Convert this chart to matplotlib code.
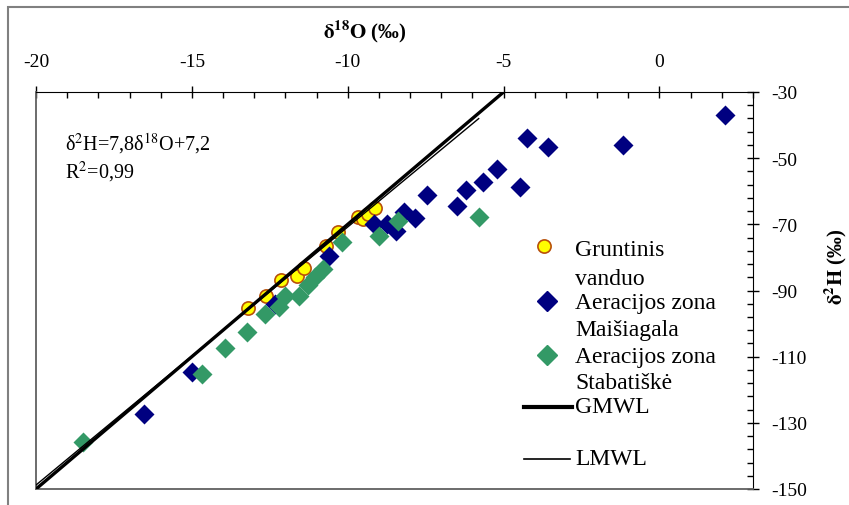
import matplotlib
matplotlib.use('Agg')
import matplotlib.pyplot as plt
from matplotlib.ticker import MultipleLocator, FixedLocator

plt.rcParams['font.family'] = ['Liberation Serif', 'DejaVu Serif']
plt.rcParams['mathtext.fontset'] = 'stix'
plt.rcParams['axes.unicode_minus'] = False

# Gruntinis vanduo
gw_o18 = [-13.19, -12.62, -12.13, -11.62, -11.40, -10.69, -10.30, -9.66, -9.50, -9.34, -9.12]
gw_h2 = [-95.3, -91.7, -86.8, -85.6, -83.2, -76.6, -72.3, -67.8, -68.4, -66.9, -65.1]

# Aeracijos zona Maisiagala
mai_o18 = [2.09, -4.24, -3.56, -1.16, -5.20, -5.65, -6.20, -4.46, -7.45, -6.48,
           -8.19, -7.83, -9.15, -8.73, -8.44, -10.59, -12.33, -14.99, -16.53]
mai_h2 = [-37.0, -43.9, -46.6, -46.0, -53.3, -57.2, -59.6, -58.7, -61.1, -64.5,
          -66.3, -68.1, -69.9, -69.9, -72.0, -79.6, -94.1, -114.6, -127.3]

# Aeracijos zona Stabatiske
sta_o18 = [-18.49, -14.67, -13.93, -13.23, -12.65, -12.20, -12.01, -11.56, -11.27,
           -11.04, -10.79, -10.18, -8.99, -8.38, -5.78]
sta_h2 = [-135.8, -115.2, -107.4, -102.6, -97.1, -95.0, -91.7, -91.7, -88.3,
          -85.9, -83.5, -75.3, -73.5, -69.0, -67.8]

# meteoric water lines (end points in d18O)
gmwl_x = [-20, -5]
lmwl_x = [-20, -5.8]
gmwl_y = [8 * x + 10 for x in gmwl_x]
lmwl_y = [7.8 * x + 7.2 for x in lmwl_x]

y_ticks = [-30, -50, -70, -90, -110, -130, -150]

fig = plt.figure(figsize=(8.49, 5.06), dpi=100)
ax = fig.add_axes([36 / 849, 1 - 490 / 506, 717 / 849, 397 / 506])

ax.plot(gw_o18, gw_h2, 'o', ms=9.5, mfc='#FFFF00', mec='#B8500A', mew=1.2, zorder=3)
ax.plot(mai_o18, mai_h2, 'D', ms=10, color='#000080', mec='none', zorder=3)
ax.plot(sta_o18, sta_h2, 'D', ms=10, color='#339966', mec='none', zorder=3)
ax.plot(gmwl_x, gmwl_y, color='black', lw=2.4, zorder=4)
ax.plot(lmwl_x, lmwl_y, color='black', lw=1.0, zorder=4)

ax.set_xlim(-20, 3)
ax.set_ylim(-150, -30)
ax.xaxis.tick_top()
ax.yaxis.tick_right()
ax.xaxis.set_label_position('top')
ax.yaxis.set_label_position('right')
ax.xaxis.set_major_locator(MultipleLocator(5))
ax.xaxis.set_minor_locator(MultipleLocator(1))
ax.yaxis.set_major_locator(FixedLocator(y_ticks))
ax.yaxis.set_minor_locator(MultipleLocator(4, offset=2))
ax.tick_params(which='major', direction='inout', length=9, width=1, labelsize=14)
ax.tick_params(which='minor', direction='in', length=4, width=1)
ax.tick_params(axis='x', which='major', pad=11)
ax.tick_params(axis='y', which='major', pad=9)

for s in ['top', 'right']:
    ax.spines[s].set_color('black')
for s in ['left', 'bottom']:
    ax.spines[s].set_color('#606060')
    ax.spines[s].set_linewidth(1.3)

ax.set_xlabel(r'$\mathbf{\delta^{18}O}$ (‰)', fontsize=15, fontweight='bold')
ax.set_ylabel(r'$\mathbf{\delta^{2}H}$ (‰)', fontsize=15, fontweight='bold')
ax.xaxis.set_label_coords(0.459, 1.139)
ax.yaxis.set_label_coords(1.097, 0.562)

ax.text(0.04, 0.872, 'δ$^{2}$H=7,8δ$^{18}$O+7,2', transform=ax.transAxes,
        fontsize=14.5, va='center')
ax.text(0.04, 0.80, 'R$^{2}$=0,99', transform=ax.transAxes, fontsize=14.5, va='center')

# legend drawn by hand to keep the wrapped Excel-style labels
tx = 0.752
fs = 17
ax.plot([0.7085], [0.612], 'o', ms=9.5, mfc='#FFFF00', mec='#B8500A', mew=1.2,
        transform=ax.transAxes, clip_on=False)
ax.text(tx, 0.6045, 'Gruntinis', transform=ax.transAxes, fontsize=fs, va='center')
ax.text(tx, 0.529, 'vanduo', transform=ax.transAxes, fontsize=fs, va='center')
ax.plot([0.7127], [0.4736], 'D', ms=10, color='#000080', transform=ax.transAxes)
ax.text(tx, 0.471, 'Aeracijos zona', transform=ax.transAxes, fontsize=fs, va='center')
ax.text(tx, 0.403, 'Maišiagala', transform=ax.transAxes, fontsize=fs, va='center')
ax.plot([0.7127], [0.3375], 'D', ms=10, color='#339966', transform=ax.transAxes)
ax.text(tx, 0.335, 'Aeracijos zona', transform=ax.transAxes, fontsize=fs, va='center')
ax.text(tx, 0.2695, 'Stabatiškė', transform=ax.transAxes, fontsize=fs, va='center')
ax.plot([0.6806, 0.7476], [0.2065, 0.2065], color='black', lw=3, transform=ax.transAxes)
ax.text(tx, 0.209, 'GMWL', transform=ax.transAxes, fontsize=fs, va='center')
ax.plot([0.6806, 0.745], [0.0756, 0.0756], color='black', lw=1.2, transform=ax.transAxes)
ax.text(tx, 0.0756, 'LMWL', transform=ax.transAxes, fontsize=fs, va='center')

# outer chart frame
fig.patches.append(plt.Rectangle((8 / 849, -0.2), 1.2, 1.2 - 8 / 506,
                                 transform=fig.transFigure, fill=False,
                                 edgecolor='#808080', lw=1.5))

fig.savefig('out.png', dpi=100)
